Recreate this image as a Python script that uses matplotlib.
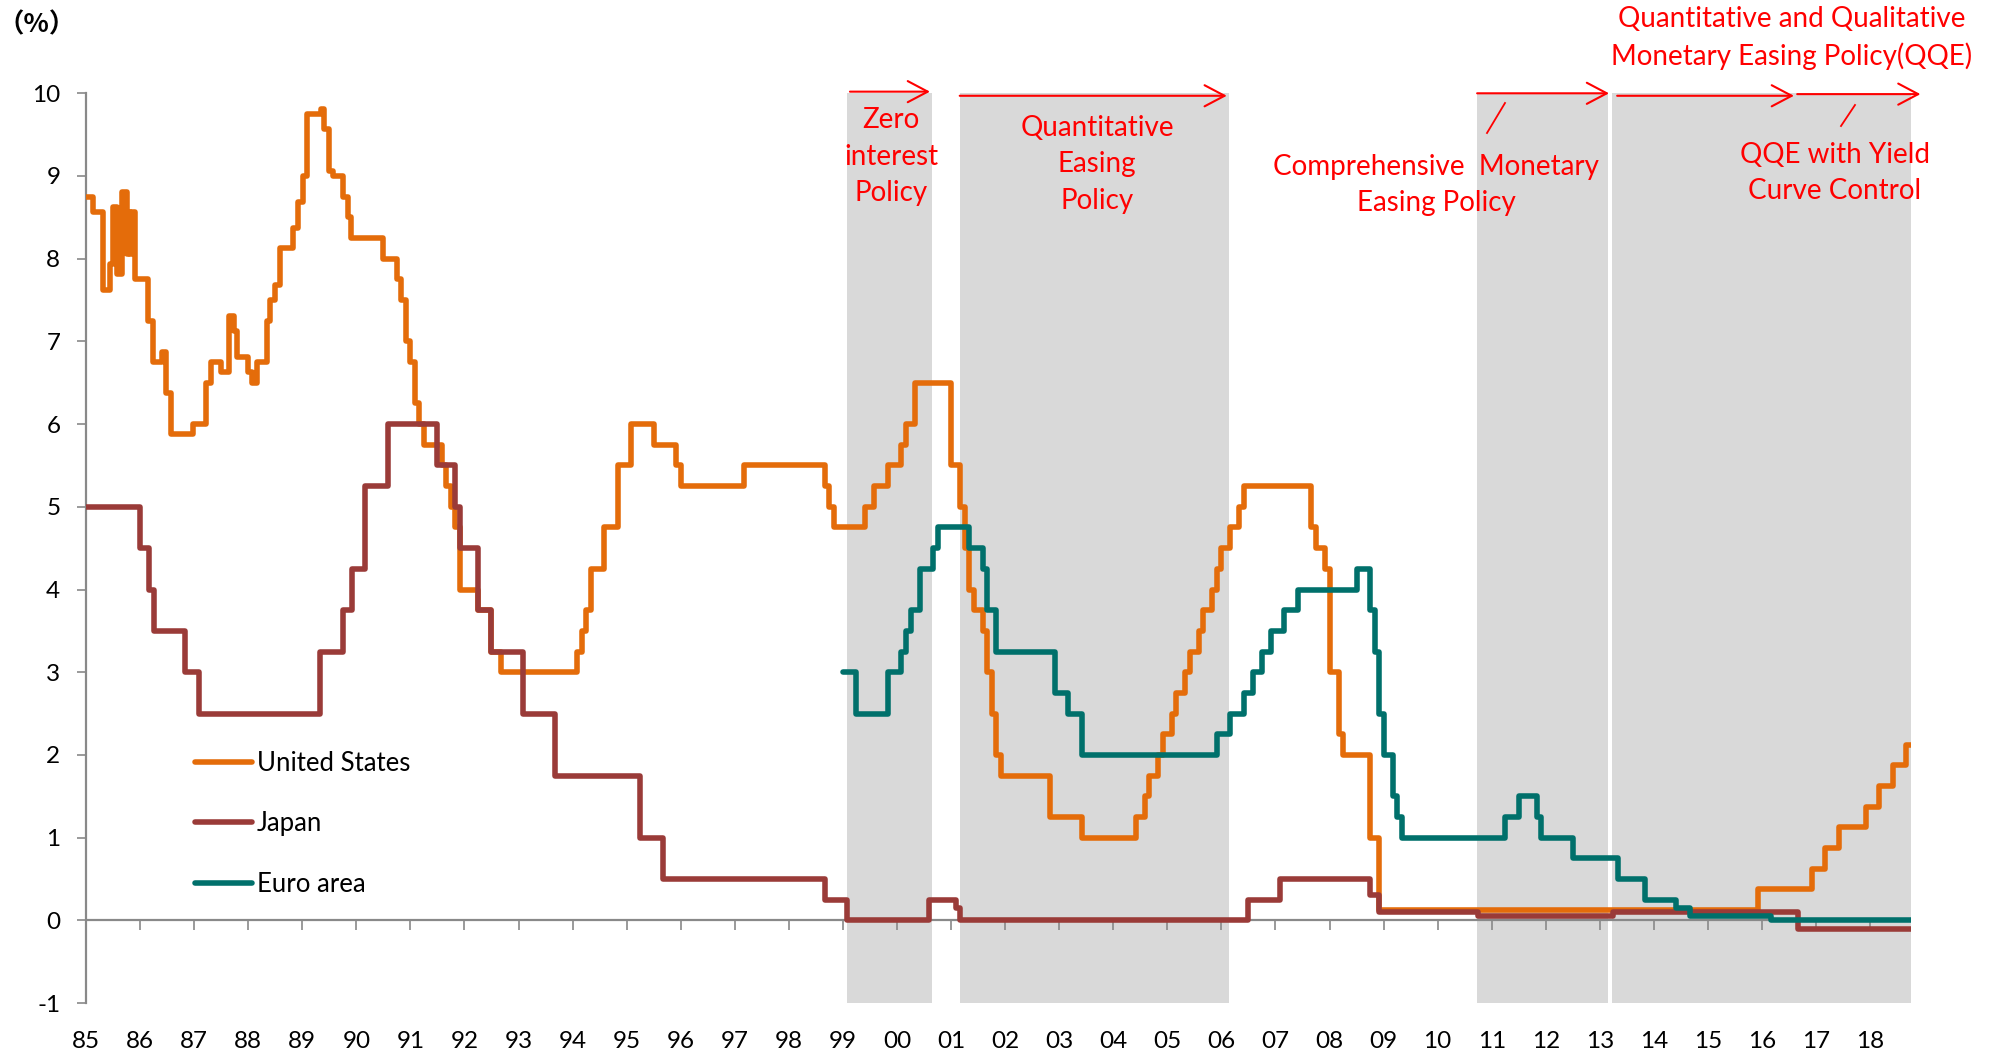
import matplotlib
matplotlib.use("Agg")
import matplotlib.pyplot as plt
from matplotlib.lines import Line2D

# ---------------- data ----------------
end_date = "2018-10"

us_dates = ["1985-01", "1985-02-20", "1985-04-27", "1985-06-10", "1985-07-03", "1985-07-30",
            "1985-08-29", "1985-10-01", "1985-10-12", "1985-10-23", "1985-11-05", "1985-11-28",
            "1986-02-25", "1986-03-30", "1986-05-25", "1986-06-22", "1986-07-27", "1986-12-26",
            "1987-03-20", "1987-04-21", "1987-06-28", "1987-08-25", "1987-09-26", "1987-10-19",
            "1988-01", "1988-01-30", "1988-02-27", "1988-05-03", "1988-05-29", "1988-06-28",
            "1988-08-03", "1988-11-01", "1988-11-30", "1989-01-03", "1989-01-30", "1989-05-03",
            "1989-05-25", "1989-06-29", "1989-07-28", "1989-10-05", "1989-11-03", "1989-11-29",
            "1990-07", "1990-10", "1990-11", "1990-12", "1991-01", "1991-02", "1991-03", "1991-04",
            "1991-08", "1991-09", "1991-10", "1991-11", "1991-12", "1992-04", "1992-07", "1992-09",
            "1994-02", "1994-03", "1994-04", "1994-05", "1994-08", "1994-11", "1995-02", "1995-07",
            "1995-12", "1996-01", "1997-03", "1998-09", "1998-10", "1998-11", "1999-06", "1999-08",
            "1999-11", "2000-02", "2000-03", "2000-05", "2001-01", "2001-03", "2001-04", "2001-05",
            "2001-06", "2001-08", "2001-09", "2001-10", "2001-11", "2001-12", "2002-11", "2003-06",
            "2004-06", "2004-08", "2004-09", "2004-11", "2004-12", "2005-02", "2005-03", "2005-05",
            "2005-06", "2005-08", "2005-09", "2005-11", "2005-12", "2006-01", "2006-03", "2006-05",
            "2006-06", "2007-09", "2007-10", "2007-12", "2008-01", "2008-03", "2008-04", "2008-10",
            "2008-12", "2015-12", "2016-12", "2017-03", "2017-06", "2017-12", "2018-03", "2018-06",
            "2018-09"]
us_rates = [8.75, 8.5625, 7.625, 7.9375, 8.625, 7.8125,
            8.8125, 8.0625, 8.5625, 8.0625, 8.5625, 7.75,
            7.25, 6.75, 6.875, 6.375, 5.875, 6.0,
            6.5, 6.75, 6.625, 7.3125, 7.125, 6.8125,
            6.625, 6.5, 6.75, 7.25, 7.5, 7.6875,
            8.125, 8.375, 8.6875, 9.0, 9.75, 9.8125,
            9.5625, 9.0625, 9.0, 8.75, 8.5, 8.25,
            8.0, 7.75, 7.5, 7.0, 6.75, 6.25, 6.0, 5.75,
            5.5, 5.25, 5.0, 4.75, 4.0, 3.75, 3.25, 3.0,
            3.25, 3.5, 3.75, 4.25, 4.75, 5.5, 6.0, 5.75,
            5.5, 5.25, 5.5, 5.25, 5.0, 4.75, 5.0, 5.25,
            5.5, 5.75, 6.0, 6.5, 5.5, 5.0, 4.5, 4.0,
            3.75, 3.5, 3.0, 2.5, 2.0, 1.75, 1.25, 1.0,
            1.25, 1.5, 1.75, 2.0, 2.25, 2.5, 2.75, 3.0,
            3.25, 3.5, 3.75, 4.0, 4.25, 4.5, 4.75, 5.0,
            5.25, 4.75, 4.5, 4.25, 3.0, 2.25, 2.0, 1.0,
            0.125, 0.375, 0.625, 0.875, 1.125, 1.375, 1.625, 1.875,
            2.125]

jp_dates = ["1985-01", "1986-01", "1986-03", "1986-04", "1986-11", "1987-02", "1989-05", "1989-10",
            "1989-12", "1990-03", "1990-08", "1991-07", "1991-11", "1991-12", "1992-04", "1992-07",
            "1993-02", "1993-09", "1995-04", "1995-09", "1998-09", "1999-02", "2000-08", "2001-02",
            "2001-03", "2006-07", "2007-02", "2008-10", "2008-12", "2010-10", "2013-04", "2016-09"]
jp_rates = [5.0, 4.5, 4.0, 3.5, 3.0, 2.5, 3.25, 3.75,
            4.25, 5.25, 6.0, 5.5, 5.0, 4.5, 3.75, 3.25,
            2.5, 1.75, 1.0, 0.5, 0.25, 0.0, 0.25, 0.15,
            0.0, 0.25, 0.5, 0.3, 0.1, 0.05, 0.1, -0.1]

eu_dates = ["1999-01", "1999-04", "1999-11", "2000-02", "2000-03", "2000-04", "2000-06", "2000-09",
            "2000-10", "2001-05", "2001-08", "2001-09", "2001-11", "2002-12", "2003-03", "2003-06",
            "2005-12", "2006-03", "2006-06", "2006-08", "2006-10", "2006-12", "2007-03", "2007-06",
            "2008-07", "2008-10", "2008-11", "2008-12", "2009-01", "2009-03", "2009-04", "2009-05",
            "2011-04", "2011-07", "2011-11", "2011-12", "2012-07", "2013-05", "2013-11", "2014-06",
            "2014-09", "2016-03"]
eu_rates = [3.0, 2.5, 3.0, 3.25, 3.5, 3.75, 4.25, 4.5,
            4.75, 4.5, 4.25, 3.75, 3.25, 2.75, 2.5, 2.0,
            2.25, 2.5, 2.75, 3.0, 3.25, 3.5, 3.75, 4.0,
            4.25, 3.75, 3.25, 2.5, 2.0, 1.5, 1.25, 1.0,
            1.25, 1.5, 1.25, 1.0, 0.75, 0.5, 0.25, 0.15,
            0.05, 0.0]

series_names = ["United States", "Japan", "Euro area"]
series_colors = ["#E46C0A", "#9A3B38", "#00706B"]

# BOJ policy periods (decimal years)
policy_start = [1999.07, 2001.16, 2010.73, 2013.22, 2016.65]
policy_end = [2000.65, 2006.14, 2013.15, 2016.65, 2018.75]
arrow_start = [1999.13, 2001.16, 2010.73, 2013.32, 2016.65]
arrow_end = [2000.61, 2006.10, 2013.17, 2016.59, 2018.93]
arrow_y = [10.02, 9.97, 10.0, 9.97, 9.99]

year_ticks = list(range(1985, 2019))
year_labels = ["%02d" % (y % 100) for y in year_ticks]
y_ticks = list(range(-1, 11))


def to_year(s):
    p = s.split("-")
    y, m = int(p[0]), int(p[1])
    d = int(p[2]) if len(p) > 2 else 1
    return y + (m - 1) / 12 + (d - 1) / 365


# ---------------- figure ----------------
W, H = 1997, 1052
plt.rcParams['font.family'] = ['Lato', 'DejaVu Sans']
fig = plt.figure(figsize=(W / 100, H / 100), dpi=100)
ax = fig.add_axes([86 / W, 1 - 1003 / H, (1911 - 86) / W, (1003 - 93.3) / H])
x_end = to_year(end_date)
ax.set_xlim(1985.0, x_end + 0.005)
ax.set_ylim(-1, 10)

# shaded policy periods
for s, e in zip(policy_start, policy_end):
    ax.axvspan(s, e, ymin=0, ymax=1, color="#D9D9D9", lw=0, zorder=0)

# zero line and x tick marks
ax.axhline(0, color="#898989", lw=1.6, zorder=1)
ax.vlines(year_ticks, -0.12, 0, color="#898989", lw=1.2, zorder=1)

# series
for dates, rates, name, col, z in [(us_dates, us_rates, series_names[0], series_colors[0], 3),
                                   (jp_dates, jp_rates, series_names[1], series_colors[1], 4),
                                   (eu_dates, eu_rates, series_names[2], series_colors[2], 5)]:
    xs = [to_year(d) for d in dates] + [x_end]
    ys = list(rates) + [rates[-1]]
    ax.step(xs, ys, where="post", color=col, lw=4.0, label=name, zorder=z,
            solid_capstyle="round", solid_joinstyle="round")

# axes styling
for sp in ["top", "right", "bottom"]:
    ax.spines[sp].set_visible(False)
ax.spines["left"].set_color("#898989")
ax.spines["left"].set_linewidth(1.6)
ax.set_yticks(y_ticks)
ax.set_yticklabels([str(v) for v in y_ticks])
ax.tick_params(axis="y", direction="out", length=6.5, width=1.2, color="#898989",
               pad=12, labelsize=17.5, labelcolor="black")
ax.set_xticks(year_ticks)
ax.set_xticklabels(year_labels)
ax.tick_params(axis="x", length=0, pad=20, labelsize=17.5, labelcolor="black")

# legend
leg = fig.legend(loc="upper left", bbox_to_anchor=(195 / W, 1 - 751 / H), frameon=False,
                 fontsize=18.5, handlelength=2.2, handletextpad=0.2, labelspacing=1.38,
                 borderpad=0, borderaxespad=0)

# arrows
red = "#FF0000"
for s, e, yv in zip(arrow_start, arrow_end, arrow_y):
    ax.annotate("", xy=(e, yv), xytext=(s, yv), xycoords="data", textcoords="data",
                annotation_clip=False,
                arrowprops=dict(arrowstyle="->,head_length=0.72,head_width=0.38",
                                mutation_scale=20, color=red, lw=1.5,
                                shrinkA=0, shrinkB=0))


def ftext(x, y, s, **kw):
    fig.text(x / W, 1 - y / H, s, ha="center", va="center", color=red, fontsize=20,
             linespacing=1.5, **kw)


ftext(891, 157, "Zero\ninterest\nPolicy")
ftext(1097, 164, "Quantitative\nEasing\nPolicy")
ftext(1436, 185, "Comprehensive  Monetary\nEasing Policy")
ftext(1792, 38, "Quantitative and Qualitative\nMonetary Easing Policy(QQE)")
ftext(1835, 173, "QQE with Yield\nCurve Control")

for (x1, y1, x2, y2) in [(1505, 103, 1487, 133), (1855, 105, 1841, 126)]:
    fig.add_artist(Line2D([x1 / W, x2 / W], [1 - y1 / H, 1 - y2 / H], color=red, lw=1.3,
                          transform=fig.transFigure))

fig.text(37 / W, 1 - 25 / H, "（%）", ha="center", va="center", fontsize=19,
         family=["Noto Sans CJK JP", "DejaVu Sans"], weight="bold", color="black")

fig.savefig("out.png", dpi=100)
